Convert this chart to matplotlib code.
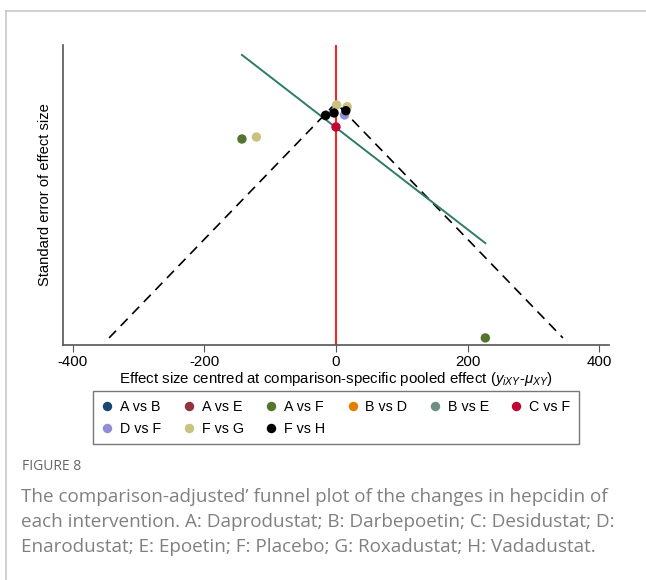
import matplotlib.pyplot as plt
from matplotlib.lines import Line2D
import numpy as np

plt.rcParams['font.family'] = ['Liberation Sans', 'DejaVu Sans']
plt.rcParams['mathtext.fontset'] = 'custom'
plt.rcParams['mathtext.rm'] = 'Liberation Sans'
plt.rcParams['mathtext.it'] = 'Liberation Sans:italic'
plt.rcParams['axes.unicode_minus'] = False

# comparisons and colours (Stata s2color)
comparisons = ['A vs B', 'A vs E', 'A vs F', 'B vs D', 'B vs E', 'C vs F',
               'D vs F', 'F vs G', 'F vs H']
colors = ['#1a476f', '#90353b', '#55752f', '#e37e00', '#6e8e84', '#c10534',
          '#938dd2', '#cac27e', '#000000']

# centred effect sizes and their standard errors, per comparison
effects = {
    'A vs B': [], 'A vs E': [], 'A vs F': [-143, 227], 'B vs D': [],
    'B vs E': [], 'C vs F': [0], 'D vs F': [-15, 13], 'F vs G': [-121, 1, 17],
    'F vs H': [-16, -3, 15],
}
ses = {
    'A vs B': [], 'A vs E': [], 'A vs F': [27, 176], 'B vs D': [],
    'B vs E': [], 'C vs F': [18], 'D vs F': [9, 9], 'F vs G': [25.5, 1.5, 2.8],
    'F vs H': [9.4, 7.5, 5.8],
}

# small-study line: se = intercept + slope * effect
line_intercept = 18.5
line_slope = 0.381

caption_lines = [
    "The comparison-adjusted\u2019 funnel plot of the changes in hepcidin of",
    "each intervention. A: Daprodustat; B: Darbepoetin; C: Desidustat; D:",
    "Enarodustat; E: Epoetin; F: Placebo; G: Roxadustat; H: Vadadustat.",
]

fig = plt.figure(figsize=(6.46, 5.8), dpi=100)

# outer light frame
fig.add_artist(Line2D([6/646, 1], [1-11/580, 1-11/580], color='#c8c8c8', lw=1.2))
fig.add_artist(Line2D([6/646, 6/646], [0, 1-11/580], color='#c8c8c8', lw=1.2))

ax = fig.add_axes([63/646, 1-345/580, 546/646, 300/580])

all_x = np.concatenate([effects[c] for c in comparisons if effects[c]])
all_se = np.concatenate([ses[c] for c in comparisons if ses[c]])
se_max = all_se.max()

# pseudo 95% confidence limits
ax.plot([-1.96*se_max, 0, 1.96*se_max], [se_max, 0, se_max], '--',
        color='black', lw=1.2, dashes=(6, 4), zorder=2)
ax.axvline(0, color='#ff1a1a', lw=1.4, zorder=2)

xs = np.array([all_x.min(), all_x.max()])
ax.plot(xs, line_intercept + line_slope*xs, color='#2f7a68', lw=1.4, zorder=2)

for c, col in zip(comparisons, colors):
    ax.scatter(effects[c], ses[c], s=46, color=col, edgecolors='none', zorder=3)

ax.set_xlim(-415, 415)
ax.set_ylim(181.3, -43.4)
ax.set_xticks([-400, -200, 0, 200, 400])
ax.set_yticks([])
for s in ['top', 'right']:
    ax.spines[s].set_visible(False)
for s in ['left', 'bottom']:
    ax.spines[s].set_color('#555555')
    ax.spines[s].set_linewidth(1.2)
ax.tick_params(axis='x', length=5, color='#555555', labelsize=10.8, pad=2)
ax.set_ylabel('Standard error of effect size', fontsize=10.6, labelpad=8)
ax.set_xlabel(r'Effect size centred at comparison-specific pooled effect ($y_{iXY}$-$\mu_{XY}$)',
              fontsize=10.8, labelpad=1)

# legend is filled row by row in the reference
handles = [Line2D([], [], marker='o', ls='none', markersize=6.8, color=col,
                  markeredgewidth=0) for col in colors]
order = [0, 6, 1, 7, 2, 8, 3, 4, 5]
leg = fig.legend([handles[i] for i in order], [comparisons[i] for i in order],
                 loc='upper left',
                 bbox_to_anchor=(93/646, 1-392/580, 486/646, 0.001), mode='expand',
                 ncol=6, fontsize=10.3, frameon=True, fancybox=False,
                 edgecolor='#555555', handlelength=0.8, handletextpad=0.5,
                 borderpad=0.6, labelspacing=0.55, columnspacing=1.0,
                 borderaxespad=0)
leg.get_frame().set_linewidth(1.0)

fig.text(22/646, 1-467/580, 'FIGURE 8', fontsize=10, color='#666666',
         family='Open Sans', va='center')
for i, line in enumerate(caption_lines):
    fig.text(21/646, 1-(497 + 25*i)/580, line, fontsize=13.6, color='#808080',
             family='Open Sans', va='center')

fig.savefig('out.png', dpi=100)
